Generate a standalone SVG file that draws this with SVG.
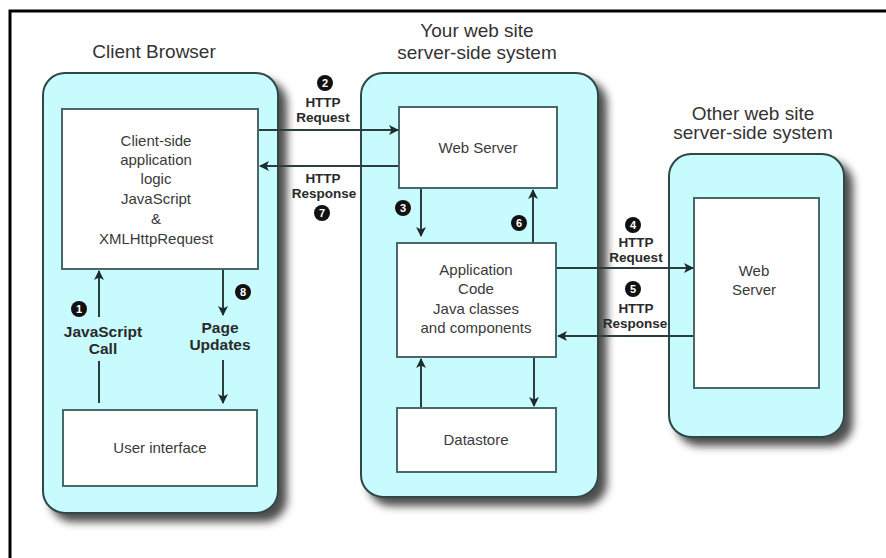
<svg xmlns="http://www.w3.org/2000/svg" width="886" height="558" viewBox="0 0 886 558">
  <defs>
    <filter id="shadow" x="-10%" y="-10%" width="130%" height="130%">
      <feDropShadow dx="8" dy="8" stdDeviation="4.5" flood-color="#000" flood-opacity="0.7"/>
    </filter>
    <marker id="arrow" viewBox="0 0 10 10" refX="9" refY="5" markerWidth="10" markerHeight="10" markerUnits="userSpaceOnUse" orient="auto">
      <path d="M0,0 L10,5 L0,10 L2.5,5 z" fill="#1c2b2b"/>
    </marker>
  </defs>
  <style>
    .frame { fill: none; stroke: #000; stroke-width: 3; }
    .container { fill: #c8fbfd; stroke: #2e4646; stroke-width: 2; filter: url(#shadow); }
    .box { fill: #fff; stroke: #4a6868; stroke-width: 2; }
    .title { font-family: "Liberation Sans", Arial, sans-serif; font-size: 19px; fill: #333; text-anchor: middle; }
    .txt { font-family: "Liberation Sans", Arial, sans-serif; font-size: 15px; fill: #3a3a3a; text-anchor: middle; }
    .lbl { font-family: "Liberation Sans", Arial, sans-serif; font-size: 15.5px; font-weight: bold; fill: #2a2a2a; text-anchor: middle; }
    .http { font-size: 13.5px; }
    .conn { stroke: #2b3d3d; stroke-width: 2; fill: none; }
    .badge circle { fill: #111; }
    .badge text { font-family: "Liberation Sans", Arial, sans-serif; font-size: 11px; font-weight: bold; fill: #fff; text-anchor: middle; }
  </style>

  <rect width="886" height="558" fill="#fff"/>
  <path class="frame" d="M10,558 V11 H886"/>

  <!-- titles -->
  <text class="title" x="154" y="58">Client Browser</text>
  <text class="title" x="477" y="37">Your web site</text>
  <text class="title" x="477" y="59">server-side system</text>
  <text class="title" x="753" y="120">Other web site</text>
  <text class="title" x="753" y="139">server-side system</text>

  <!-- client browser -->
  <g id="client-browser">
    <rect class="container" x="43" y="73" width="235" height="440" rx="22"/>
  </g>
  <g id="client-logic">
    <rect class="box" x="62" y="109" width="196" height="160"/>
    <text class="txt" x="156" y="146">Client-side</text>
    <text class="txt" x="156" y="165">application</text>
    <text class="txt" x="156" y="184">logic</text>
    <text class="txt" x="156" y="204">JavaScript</text>
    <text class="txt" x="156" y="224">&amp;</text>
    <text class="txt" x="156" y="244">XMLHttpRequest</text>
  </g>
  <g id="user-interface">
    <rect class="box" x="63" y="410" width="194" height="76"/>
    <text class="txt" x="160" y="453">User interface</text>
  </g>

  <!-- your web site -->
  <g id="your-site">
    <rect class="container" x="361" y="73" width="237" height="424" rx="22"/>
  </g>
  <g id="web-server">
    <rect class="box" x="399" y="107" width="158" height="81"/>
    <text class="txt" x="478" y="153">Web Server</text>
  </g>
  <g id="application-code">
    <rect class="box" x="397" y="243" width="159" height="114"/>
    <text class="txt" x="476" y="275">Application</text>
    <text class="txt" x="476" y="294">Code</text>
    <text class="txt" x="476" y="314">Java classes</text>
    <text class="txt" x="476" y="333">and components</text>
  </g>
  <g id="datastore">
    <rect class="box" x="397" y="408" width="159" height="64"/>
    <text class="txt" x="476" y="445">Datastore</text>
  </g>

  <!-- other web site -->
  <g id="other-site">
    <rect class="container" x="669" y="154" width="175" height="283" rx="22"/>
  </g>
  <g id="other-web-server">
    <rect class="box" x="694" y="198" width="125" height="190"/>
    <text class="txt" x="754" y="276">Web</text>
    <text class="txt" x="754" y="295">Server</text>
  </g>

  <!-- connectors -->
  <g id="connectors">
    <line class="conn" x1="99" y1="317" x2="99" y2="271" marker-end="url(#arrow)"/>
    <line class="conn" x1="99" y1="403" x2="99" y2="361"/>
    <line class="conn" x1="223" y1="270" x2="223" y2="315" marker-end="url(#arrow)"/>
    <line class="conn" x1="223" y1="360" x2="223" y2="403" marker-end="url(#arrow)"/>
    <line class="conn" x1="259" y1="130" x2="398" y2="130" marker-end="url(#arrow)"/>
    <line class="conn" x1="398" y1="166" x2="260" y2="166" marker-end="url(#arrow)"/>
    <line class="conn" x1="421" y1="189" x2="421" y2="236" marker-end="url(#arrow)"/>
    <line class="conn" x1="533" y1="242" x2="533" y2="190" marker-end="url(#arrow)"/>
    <line class="conn" x1="557" y1="268" x2="693" y2="268" marker-end="url(#arrow)"/>
    <line class="conn" x1="693" y1="336" x2="558" y2="336" marker-end="url(#arrow)"/>
    <line class="conn" x1="421" y1="407" x2="421" y2="359" marker-end="url(#arrow)"/>
    <line class="conn" x1="534" y1="358" x2="534" y2="406" marker-end="url(#arrow)"/>
  </g>

  <!-- connector labels -->
  <g id="labels">
    <text class="lbl" x="103" y="337">JavaScript</text>
    <text class="lbl" x="103" y="354">Call</text>
    <text class="lbl" x="220" y="333">Page</text>
    <text class="lbl" x="220" y="350">Updates</text>
    <text class="lbl http" x="323" y="107">HTTP</text>
    <text class="lbl http" x="323" y="122">Request</text>
    <text class="lbl http" x="323" y="183">HTTP</text>
    <text class="lbl http" x="324" y="198">Response</text>
    <text class="lbl http" x="636" y="247">HTTP</text>
    <text class="lbl http" x="636" y="262">Request</text>
    <text class="lbl http" x="636" y="313">HTTP</text>
    <text class="lbl http" x="635" y="328">Response</text>
  </g>

  <!-- step numbers -->
  <g id="steps">
    <g class="badge"><circle cx="79" cy="309" r="8"/><text x="79" y="313">1</text></g>
    <g class="badge"><circle cx="325" cy="83" r="8"/><text x="325" y="87">2</text></g>
    <g class="badge"><circle cx="403" cy="208" r="8"/><text x="403" y="212">3</text></g>
    <g class="badge"><circle cx="633" cy="225" r="8"/><text x="633" y="229">4</text></g>
    <g class="badge"><circle cx="633" cy="289" r="8"/><text x="633" y="293">5</text></g>
    <g class="badge"><circle cx="519" cy="223" r="8"/><text x="519" y="227">6</text></g>
    <g class="badge"><circle cx="322" cy="213" r="8"/><text x="322" y="217">7</text></g>
    <g class="badge"><circle cx="243" cy="292" r="8"/><text x="243" y="296">8</text></g>
  </g>
</svg>
